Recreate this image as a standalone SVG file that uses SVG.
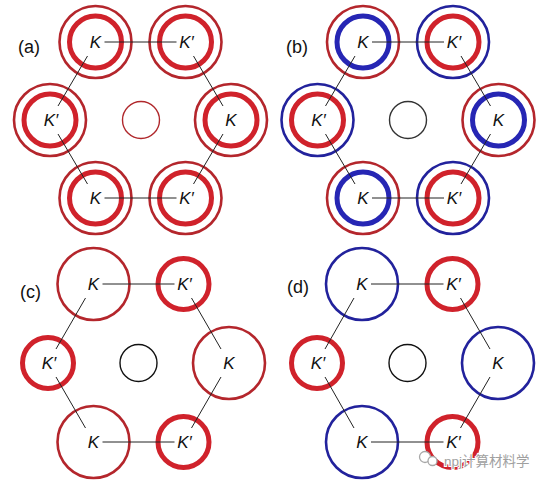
<svg xmlns="http://www.w3.org/2000/svg" width="547" height="482" viewBox="0 0 547 482">
<style>
  .lbl { font-family: "Liberation Sans", Arial, sans-serif; font-size: 18px; fill: #111; }
  .k { font-family: "Liberation Sans", Arial, sans-serif; font-size: 17px; font-style: italic; fill: #111; text-anchor: middle; }
  .edge { stroke: #222; stroke-width: 1; fill: none; }
  .ring { fill: none; }
  .thinR { stroke: #b4262c; stroke-width: 2.6; }
  .thickR { stroke: #d0222b; stroke-width: 5; }
  .thinB { stroke: #22229c; stroke-width: 2.6; }
  .thickB { stroke: #2626b4; stroke-width: 5; }
  .cen { fill: none; stroke-width: 1.4; }
  .wm { font-family: "Liberation Sans", "Noto Sans CJK SC", sans-serif; font-size: 13.5px; fill: #a0a0a0; stroke: #ffffff; stroke-width: 2; paint-order: stroke; }
</style>

<!-- Panel (a) -->
<g id="panel-a">
  <text class="lbl" x="18" y="53">(a)</text>
  <g id="a-center"><circle class="cen" cx="141" cy="120" r="18.5" stroke="#b0282c"/></g>
  <g id="a-K1"><circle class="ring thinR" cx="95.5" cy="42" r="36"/><circle class="ring thickR" cx="95.5" cy="42" r="26"/></g>
  <g id="a-Kp1"><circle class="ring thinR" cx="185.5" cy="42" r="36"/><circle class="ring thickR" cx="185.5" cy="42" r="26"/></g>
  <g id="a-Kp2"><circle class="ring thinR" cx="50" cy="120" r="36"/><circle class="ring thickR" cx="50" cy="120" r="26"/></g>
  <g id="a-K2"><circle class="ring thinR" cx="231" cy="120" r="36"/><circle class="ring thickR" cx="231" cy="120" r="26"/></g>
  <g id="a-K3"><circle class="ring thinR" cx="95.5" cy="198" r="36"/><circle class="ring thickR" cx="95.5" cy="198" r="26"/></g>
  <g id="a-Kp3"><circle class="ring thinR" cx="185.5" cy="198" r="36"/><circle class="ring thickR" cx="185.5" cy="198" r="26"/></g>
</g>

<!-- Panel (b) -->
<g id="panel-b">
  <text class="lbl" x="286" y="53">(b)</text>
  <g id="b-center"><circle class="cen" cx="408" cy="120" r="18.5" stroke="#333"/></g>
  <g id="b-K1"><circle class="ring thinR" cx="363" cy="42" r="36"/><circle class="ring thickB" cx="363" cy="42" r="26"/></g>
  <g id="b-Kp1"><circle class="ring thinB" cx="453" cy="42" r="36"/><circle class="ring thickR" cx="453" cy="42" r="26"/></g>
  <g id="b-Kp2"><circle class="ring thinB" cx="317.5" cy="120" r="36"/><circle class="ring thickR" cx="317.5" cy="120" r="26"/></g>
  <g id="b-K2"><circle class="ring thinR" cx="498.5" cy="120" r="36"/><circle class="ring thickB" cx="498.5" cy="120" r="26"/></g>
  <g id="b-K3"><circle class="ring thinR" cx="363" cy="198" r="36"/><circle class="ring thickB" cx="363" cy="198" r="26"/></g>
  <g id="b-Kp3"><circle class="ring thinB" cx="453" cy="198" r="36"/><circle class="ring thickR" cx="453" cy="198" r="26"/></g>
</g>

<!-- Panel (c) -->
<g id="panel-c">
  <text class="lbl" x="20" y="298">(c)</text>
  <g id="c-center"><circle class="cen" cx="138.5" cy="363" r="18.5" stroke="#111"/></g>
  <g id="c-K1"><circle class="ring thinR" cx="93.5" cy="284" r="36"/></g>
  <g id="c-Kp1"><circle class="ring thickR" cx="183.5" cy="284" r="25.5"/></g>
  <g id="c-Kp2"><circle class="ring thickR" cx="48" cy="363" r="25.5"/></g>
  <g id="c-K2"><circle class="ring thinR" cx="229" cy="363" r="36"/></g>
  <g id="c-K3"><circle class="ring thinR" cx="93.5" cy="442" r="36"/></g>
  <g id="c-Kp3"><circle class="ring thickR" cx="183.5" cy="442" r="25.5"/></g>
</g>

<!-- Panel (d) -->
<g id="panel-d">
  <text class="lbl" x="287" y="293">(d)</text>
  <g id="d-center"><circle class="cen" cx="407.5" cy="363" r="18.5" stroke="#111"/></g>
  <g id="d-K1"><circle class="ring thinB" cx="362" cy="284" r="36"/></g>
  <g id="d-Kp1"><circle class="ring thickR" cx="452.5" cy="284" r="25.5"/></g>
  <g id="d-Kp2"><circle class="ring thickR" cx="317" cy="363" r="25.5"/></g>
  <g id="d-K2"><circle class="ring thinB" cx="498" cy="363" r="36"/></g>
  <g id="d-K3"><circle class="ring thinB" cx="362" cy="442" r="36"/></g>
  <g id="d-Kp3"><circle class="ring thickR" cx="452.5" cy="442" r="25.5"/></g>
</g>

<!-- Connectors (hexagon edges) -->
<g id="connectors">
  <line class="edge" x1="104.5" y1="42" x2="176.5" y2="42"/>
  <line class="edge" x1="87.5" y1="56" x2="58" y2="106"/>
  <line class="edge" x1="58" y1="134" x2="87.5" y2="184"/>
  <line class="edge" x1="104.5" y1="198" x2="176.5" y2="198"/>
  <line class="edge" x1="193.5" y1="56" x2="223" y2="106"/>
  <line class="edge" x1="223" y1="134" x2="193.5" y2="184"/>

  <line class="edge" x1="372" y1="42" x2="444" y2="42"/>
  <line class="edge" x1="355" y1="56" x2="325.5" y2="106"/>
  <line class="edge" x1="325.5" y1="134" x2="355" y2="184"/>
  <line class="edge" x1="372" y1="198" x2="444" y2="198"/>
  <line class="edge" x1="461" y1="56" x2="490.5" y2="106"/>
  <line class="edge" x1="490.5" y1="134" x2="461" y2="184"/>

  <line class="edge" x1="102.5" y1="284" x2="174.5" y2="284"/>
  <line class="edge" x1="85.5" y1="298" x2="56" y2="349"/>
  <line class="edge" x1="56" y1="377" x2="85.5" y2="428"/>
  <line class="edge" x1="102.5" y1="442" x2="174.5" y2="442"/>
  <line class="edge" x1="191.5" y1="298" x2="221" y2="349"/>
  <line class="edge" x1="221" y1="377" x2="191.5" y2="428"/>

  <line class="edge" x1="371" y1="284" x2="443.5" y2="284"/>
  <line class="edge" x1="354" y1="298" x2="325" y2="349"/>
  <line class="edge" x1="325" y1="377" x2="354" y2="428"/>
  <line class="edge" x1="371" y1="442" x2="443.5" y2="442"/>
  <line class="edge" x1="460.5" y1="298" x2="490" y2="349"/>
  <line class="edge" x1="490" y1="377" x2="460.5" y2="428"/>
</g>

<!-- Node labels -->
<g id="labels">
  <text class="k" x="95.5" y="48">K</text><text class="k" x="186.5" y="48">K′</text>
  <text class="k" x="51" y="126">K′</text><text class="k" x="231" y="126">K</text>
  <text class="k" x="95.5" y="204">K</text><text class="k" x="186.5" y="204">K′</text>

  <text class="k" x="363" y="48">K</text><text class="k" x="454" y="48">K′</text>
  <text class="k" x="318.5" y="126">K′</text><text class="k" x="498.5" y="126">K</text>
  <text class="k" x="363" y="204">K</text><text class="k" x="454" y="204">K′</text>

  <text class="k" x="93.5" y="290">K</text><text class="k" x="184.5" y="290">K′</text>
  <text class="k" x="49" y="369">K′</text><text class="k" x="229" y="369">K</text>
  <text class="k" x="93.5" y="448">K</text><text class="k" x="184.5" y="448">K′</text>

  <text class="k" x="362" y="290">K</text><text class="k" x="453.5" y="290">K′</text>
  <text class="k" x="318" y="369">K′</text><text class="k" x="498" y="369">K</text>
  <text class="k" x="362" y="448">K</text><text class="k" x="453.5" y="448">K′</text>
</g>

<!-- Watermark -->
<g id="watermark">
  <circle cx="425" cy="457" r="5.5" fill="#fff" stroke="#a8a8a8" stroke-width="1.3"/>
  <circle cx="432.5" cy="461" r="4.5" fill="#fff" stroke="#a8a8a8" stroke-width="1.3"/>
  <text class="wm" x="444" y="466">npj计算材料学</text>
</g>
</svg>
